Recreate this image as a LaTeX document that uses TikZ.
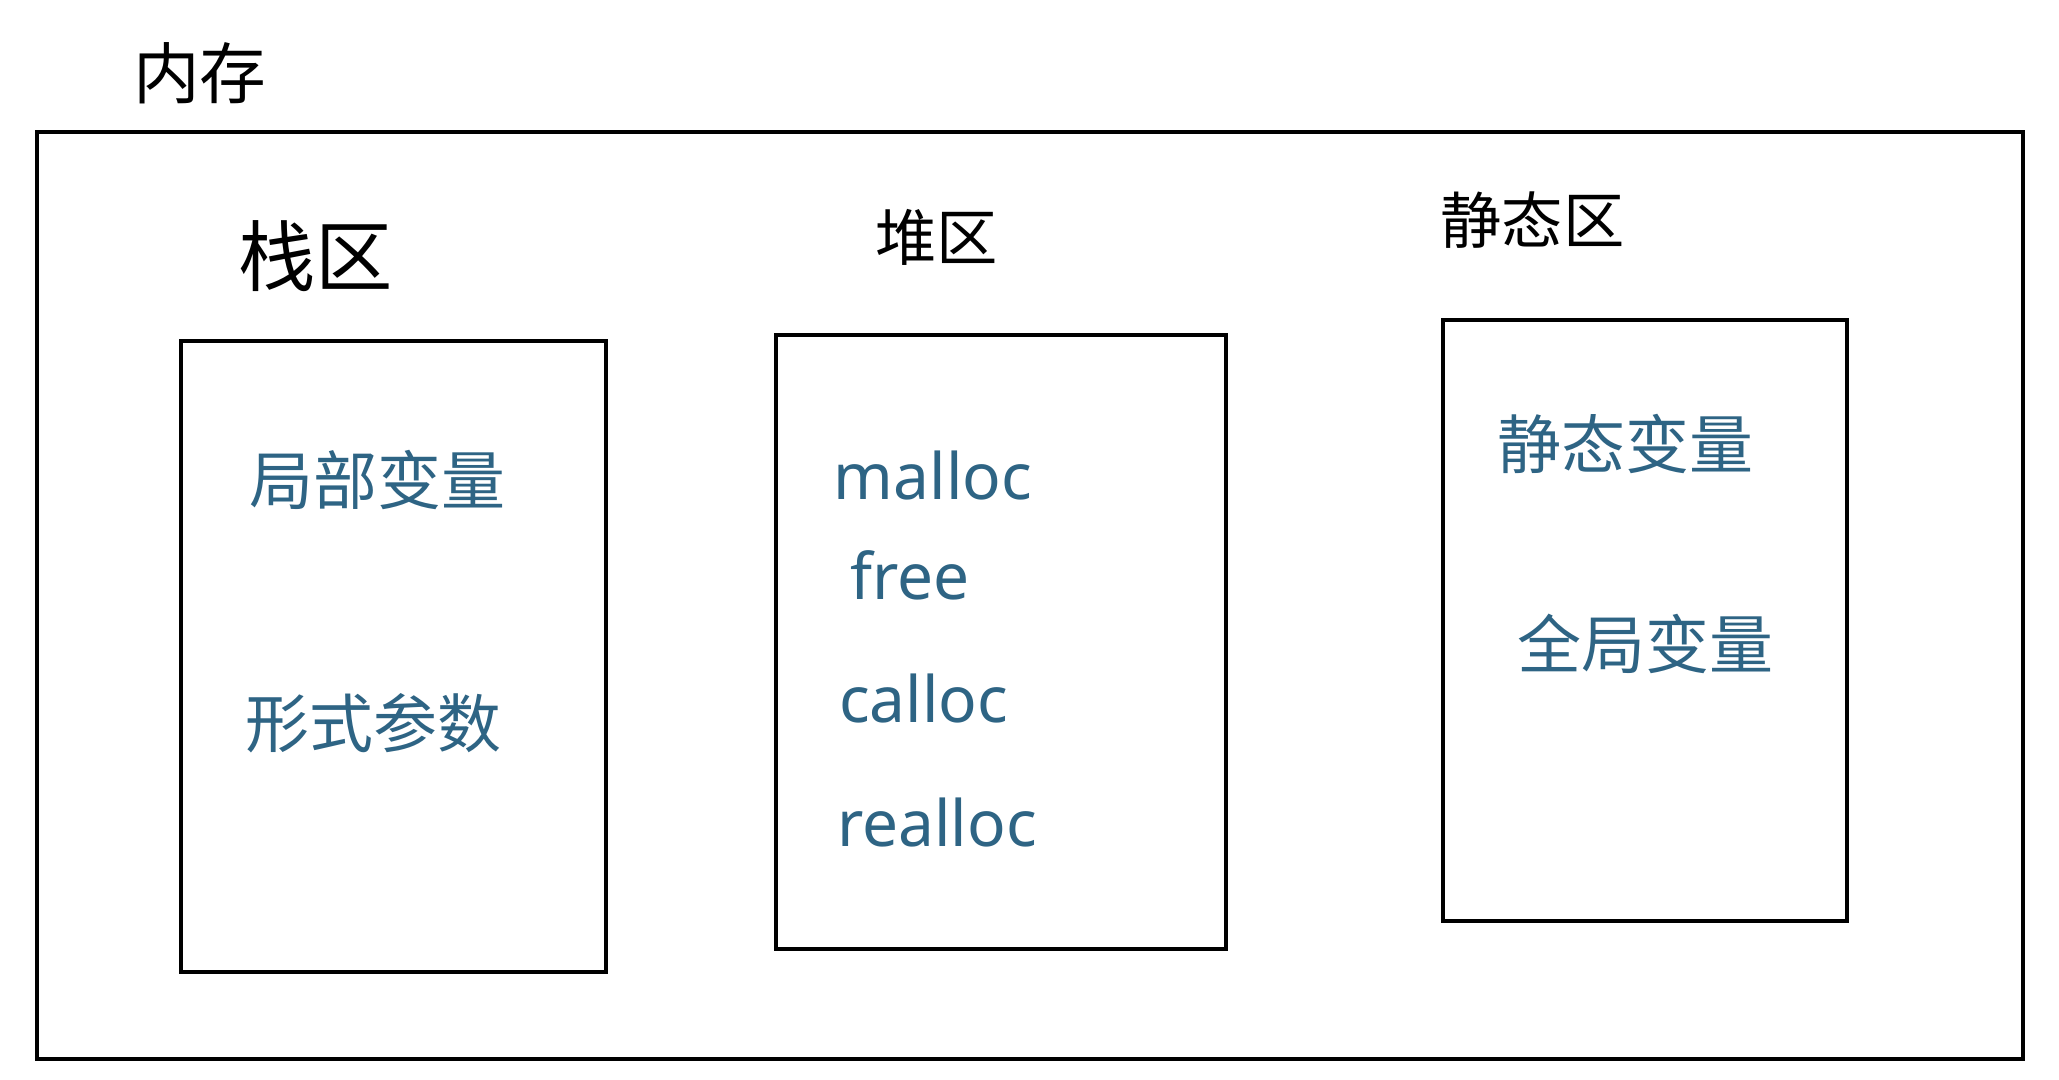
\documentclass[tikz,border=0pt]{standalone}
\usepackage{fontspec}
\newfontfamily\cjk{Noto Sans CJK SC}
\setmainfont{Noto Sans}
\definecolor{ink}{HTML}{2E6484}
\begin{document}
\begin{tikzpicture}[x=1pt,y=-1pt,
  box/.style={draw=black,line width=3pt},
  title/.style={font=\cjk\fontsize{50}{56}\selectfont,text=black},
  item/.style={font=\cjk\fontsize{48}{54}\selectfont,text=ink},
  word/.style={font=\fontsize{48}{54}\selectfont,text=ink}]
\useasboundingbox (0,0) rectangle (1545,810);
\draw[box] (28,99) rectangle (1518,795);
\node[title] (mem) at (150,55) {内存};
\node[title,font=\cjk\fontsize{58}{64}\selectfont] (stack) at (237,192) {栈区};
\node[title,font=\cjk\fontsize{46}{52}\selectfont] (heap) at (703,178) {堆区};
\node[title,font=\cjk\fontsize{46}{52}\selectfont] (static) at (1150,165) {静态区};
\draw[box] (136,256) rectangle (455,729);
\draw[box] (582,251) rectangle (920,712);
\draw[box] (1083,240) rectangle (1386,691);
\node[item] (a1) at (283,360) {局部变量};
\node[item] (a2) at (280,543) {形式参数};
\node[word] (b1) at (700,357) {malloc};
\node[word] (b2) at (683,432) {free};
\node[word] (b3) at (693,524) {calloc};
\node[word] (b4) at (703,617) {realloc};
\node[item] (c1) at (1220,333) {静态变量};
\node[item] (c2) at (1235,483) {全局变量};
\end{tikzpicture}
\end{document}
